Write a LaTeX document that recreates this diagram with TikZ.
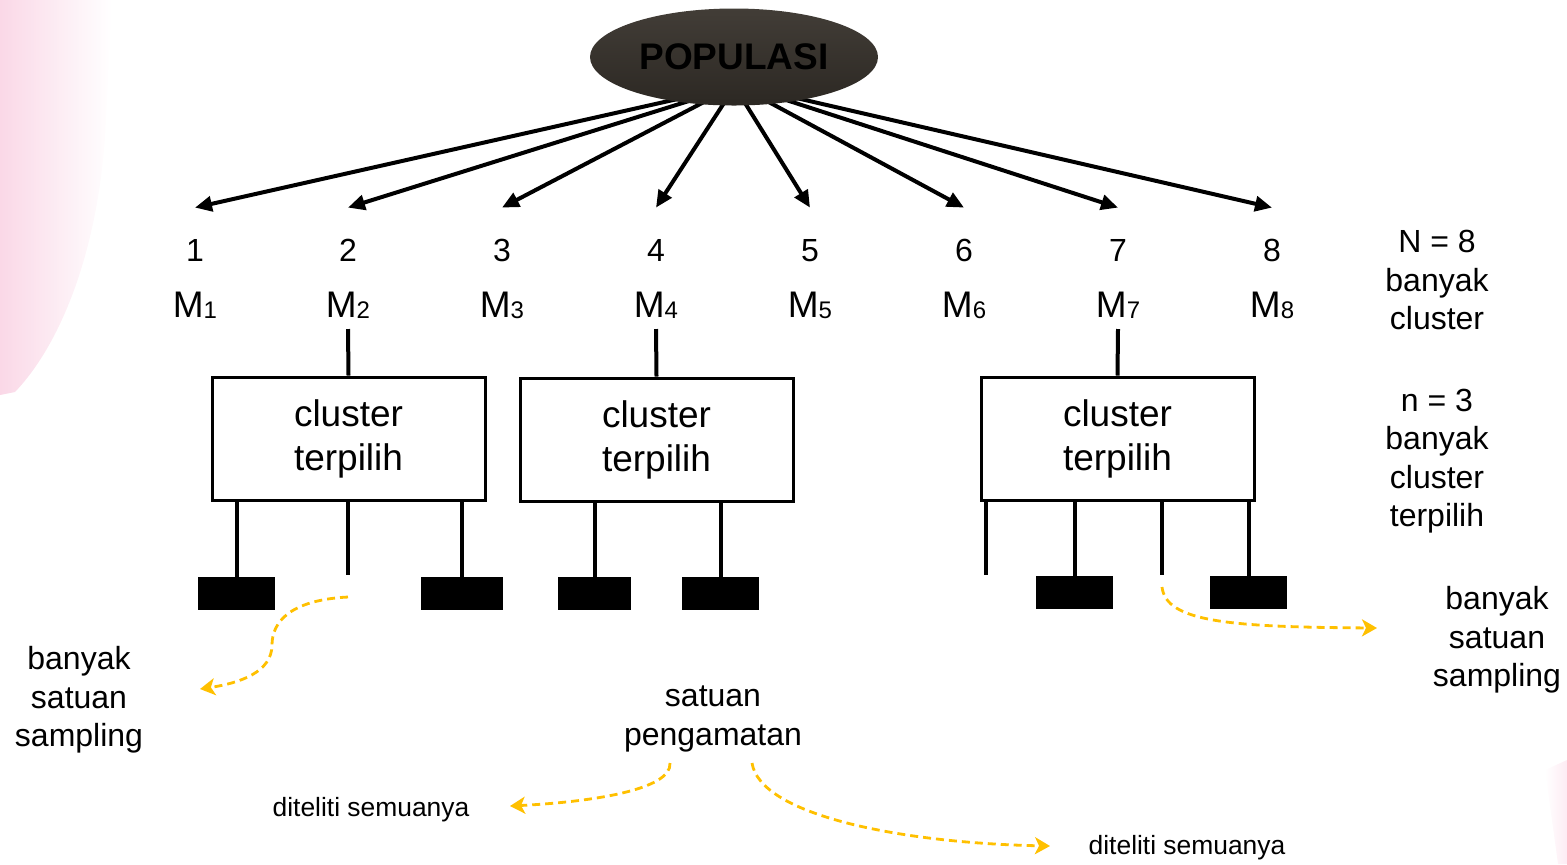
\documentclass[tikz,border=0pt]{standalone}
\usepackage{fontspec}
\setmainfont{Liberation Sans}
\usetikzlibrary{arrows.meta,shapes.geometric,calc}
\definecolor{orng}{RGB}{255,192,0}
\definecolor{popfill}{RGB}{44,40,35}
\definecolor{poptop}{RGB}{66,61,55}
\definecolor{pinkbg}{RGB}{250,216,231}
\newcommand\msub[2]{#1\raisebox{-0.8pt}{\fontsize{12}{14}\selectfont #2}}
\begin{document}
\begin{tikzpicture}[x=0.5pt,y=-0.5pt,
  blackarrow/.style={line width=2pt,-{Triangle[length=8.5pt,width=7.5pt]}},
  numlbl/.style={anchor=base,inner sep=0pt,text height=26.5pt,font=\fontsize{16}{19}\selectfont},
  mlbl/.style={anchor=base,inner sep=5pt,font=\fontsize{18.5}{22}\selectfont},
  clbox/.style={draw,line width=1.5pt,minimum width=136.5pt,minimum height=61.5pt,align=center,font=\fontsize{18.5}{22}\selectfont,inner sep=0pt},
  leaf/.style={fill=black,inner sep=0pt,minimum height=16.5pt},
  stem/.style={line width=2pt},
  note/.style={align=center,font=\fontsize{16}{19.25}\selectfont},
  small/.style={font=\fontsize{13.2}{15}\selectfont},
  orarrow/.style={orng,line width=1.4pt,dash pattern=on 4pt off 2.5pt,-{Stealth[length=7.5pt,width=8.5pt,inset=2pt]}}
]
\useasboundingbox (0,0) rectangle (1567,864);
% background smudges
\shade[left color=pinkbg,middle color=pinkbg!70,right color=white] (0,0) -- (112,0) -- (106,120) .. controls (100,250) and (60,345) .. (15,392) -- (0,395) -- cycle;
\shade[left color=white,right color=pinkbg!50] (1545,770) -- (1567,760) -- (1567,864) -- (1558,864) -- cycle;

% numbers and M labels
\foreach \i/\x in {1/195,2/348,3/502,4/656,5/810,6/964,7/1118,8/1272}{
  \node[numlbl] (n\i) at (\x,261) {\i};
  \node[mlbl] (m\i) at (\x,317) {\msub{M}{\i}};
}

% arrow start points (hidden behind the ellipse)
\coordinate (s1) at (682,98);
\coordinate (s2) at (692,100);
\coordinate (s3) at (704,102);
\coordinate (s4) at (724,103);
\coordinate (s5) at (745,103);
\coordinate (s6) at (765,100);
\coordinate (s7) at (780,98);
\coordinate (s8) at (792,97);
\foreach \i in {1,...,8}{
  \draw[blackarrow] (s\i) -- (n\i.north);
}

% population ellipse
\node[ellipse,top color=poptop,bottom color=popfill,minimum width=144pt,minimum height=48.5pt,inner sep=0pt,font=\fontsize{18.5}{22}\selectfont\bfseries] (pop) at (734,57) {POPULASI};

% cluster boxes
\node[clbox] (b1) at (348.5,438.5) {cluster\\terpilih};
\node[clbox] (b2) at (656.5,439.5) {cluster\\terpilih};
\node[clbox] (b3) at (1117.5,438.5) {cluster\\terpilih};
\draw[stem] (m2.south) -- (b1.north);
\draw[stem] (m4.south) -- (b2.north);
\draw[stem] (m7.south) -- (b3.north);

% leaves
\node[leaf,minimum width=38.5pt] (r1) at (236.5,593.5) {};
\node[leaf,minimum width=41pt] (r2) at (462,593.5) {};
\node[leaf,minimum width=36.5pt] (r3) at (594.5,593.5) {};
\node[leaf,minimum width=38.5pt] (r4) at (720.5,593.5) {};
\node[leaf,minimum width=38.5pt] (r5) at (1074.5,592.5) {};
\node[leaf,minimum width=38.5pt] (r6) at (1248.5,592.5) {};
\coordinate (e1) at (348,575);
\coordinate (e2) at (986,575);
\coordinate (e3) at (1162,575);
\foreach \r/\b in {r1/b1,r2/b1,r3/b2,r4/b2,r5/b3,r6/b3}{
  \draw[stem] (\r.north |- \b.south) -- (\r.north);
}
\draw[stem] (e1 |- b1.south) -- (e1);
\draw[stem] (e2 |- b3.south) -- (e2);
\draw[stem] (e3 |- b3.south) -- (e3);

% side notes
\node[note] (nbig) at (1437,280) {N = 8\\banyak\\cluster};
\node[note] (nsmall) at (1437,461) {n = 3\\banyak\\cluster\\terpilih};
\node[note] (lsamp) at (79,700) {banyak\\satuan\\sampling};
\node[note] (rsamp) at (1497,640) {banyak\\satuan\\sampling};
\node[note] (peng) at (713,719) {satuan\\pengamatan};
\node[small] (dit1) at (371,810) {diteliti semuanya};
\node[small] (dit2) at (1187,848) {diteliti semuanya};

% orange dashed arrows
\coordinate (o1s) at (348,597);
\coordinate (o1e) at (200,689);
\coordinate (o2s) at (1162,587);
\coordinate (o2e) at (1377,628);
\coordinate (o3s) at (670,763);
\coordinate (o3e) at (510,806);
\coordinate (o4s) at (752,763);
\coordinate (o4e) at (1050,846);
\draw[orarrow] (o1s) .. controls (290,600) and (272,622) .. (272,645) .. controls (272,672) and (240,683) .. (o1e);
\draw[orarrow] (o2s) .. controls (1166,622) and (1230,627) .. (o2e);
\draw[orarrow] (o3s) .. controls (672,790) and (590,802) .. (o3e);
\draw[orarrow] (o4s) .. controls (760,815) and (900,843) .. (o4e);
\end{tikzpicture}
\end{document}
